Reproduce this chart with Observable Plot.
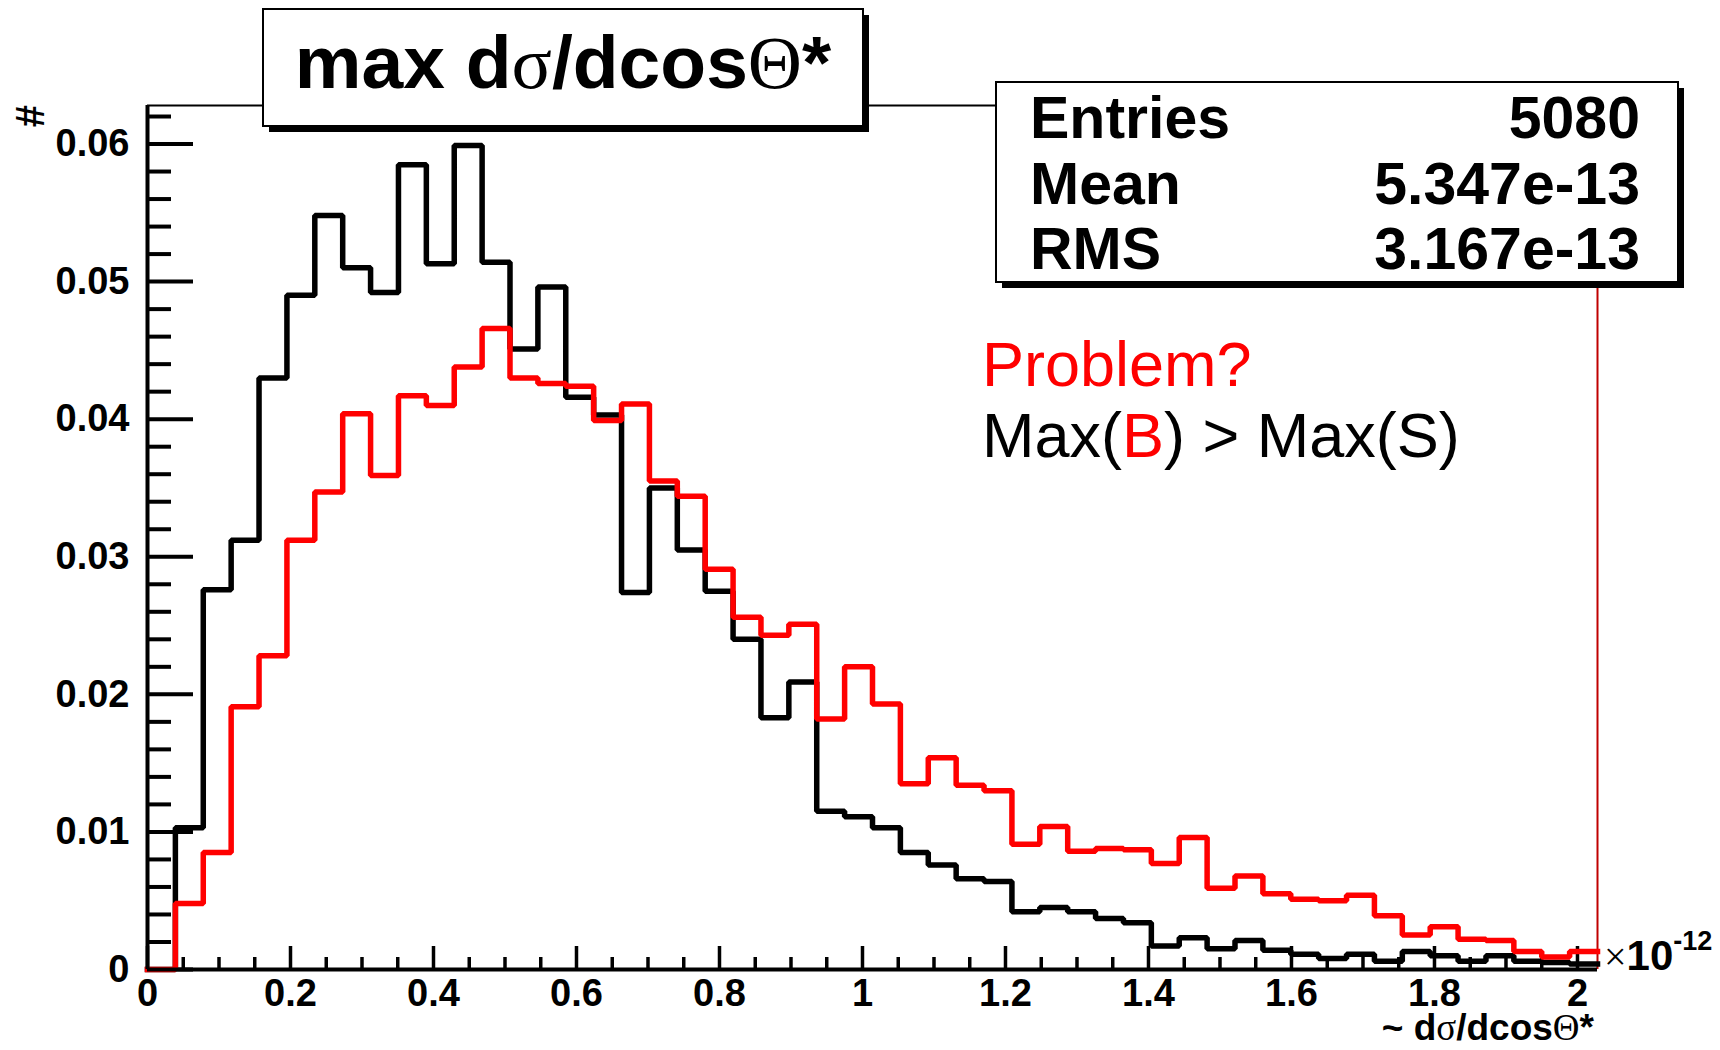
<!DOCTYPE html>
<html>
<head>
<meta charset="utf-8">
<script src="https://cdn.jsdelivr.net/npm/d3@7"></script>
<script src="https://cdn.jsdelivr.net/npm/@observablehq/plot@0.6"></script>
<style>
  html, body { margin: 0; padding: 0; background: #fff; overflow: hidden; }
  #chart svg { display: block; }
</style>
</head>
<body>
<div id="chart"></div>
<script>
// ---------------- data ----------------
// histogram binning (units of 1e-12)
const xLow = 0, xHigh = 2.028, nBins = 52;
const yMax = 0.0628;

// S : black histogram
const signal = [
  0, 0.0103, 0.0276, 0.0312, 0.0430, 0.0490, 0.0548, 0.0510, 0.0492, 0.0585,
  0.0513, 0.0599, 0.0514, 0.0451, 0.0496, 0.0416, 0.0403, 0.0274, 0.0350, 0.0305,
  0.0275, 0.0240, 0.0183, 0.0209, 0.0115, 0.0111, 0.0103, 0.0085, 0.0076, 0.0066,
  0.0064, 0.0042, 0.0045, 0.0042, 0.0037, 0.0034, 0.0017, 0.0023, 0.0015, 0.0021,
  0.0014, 0.0011, 0.0008, 0.0011, 0.0006, 0.0013, 0.0010, 0.0006, 0.0010, 0.0006,
  0.0005, 0.0004
];
// B : red histogram
const background = [
  0, 0.0048, 0.0085, 0.0191, 0.0228, 0.0312, 0.0347, 0.0404, 0.0359, 0.0417,
  0.0410, 0.0438, 0.0466, 0.0430, 0.0426, 0.0424, 0.0399, 0.0411, 0.0355, 0.0344,
  0.0291, 0.0256, 0.0243, 0.0251, 0.0182, 0.0220, 0.0193, 0.0135, 0.0154, 0.0134,
  0.0130, 0.0091, 0.0104, 0.0086, 0.0088, 0.0087, 0.0077, 0.0096, 0.0059, 0.0068,
  0.0055, 0.0051, 0.0050, 0.0054, 0.0039, 0.0025, 0.0031, 0.0022, 0.0021, 0.0013,
  0.0009, 0.0013
];

const yTicks = [0, 0.01, 0.02, 0.03, 0.04, 0.05, 0.06];
const yTickLabels = ["0", "0.01", "0.02", "0.03", "0.04", "0.05", "0.06"];
const yMinorTicks = [0.002, 0.004, 0.006, 0.008, 0.012, 0.014, 0.016, 0.018,
  0.022, 0.024, 0.026, 0.028, 0.032, 0.034, 0.036, 0.038, 0.042, 0.044, 0.046, 0.048,
  0.052, 0.054, 0.056, 0.058, 0.062];
const xTicks = [0, 0.2, 0.4, 0.6, 0.8, 1, 1.2, 1.4, 1.6, 1.8, 2];
const xTickLabels = ["0", "0.2", "0.4", "0.6", "0.8", "1", "1.2", "1.4", "1.6", "1.8", "2"];
const xMinorTicks = [0.05, 0.1, 0.15, 0.25, 0.3, 0.35, 0.45, 0.5, 0.55, 0.65, 0.7, 0.75,
  0.85, 0.9, 0.95, 1.05, 1.1, 1.15, 1.25, 1.3, 1.35, 1.45, 1.5, 1.55, 1.65, 1.7, 1.75,
  1.85, 1.9, 1.95];

const statNames = ["Entries", "Mean", "RMS"];
const statValues = ["5080", "5.347e-13", "3.167e-13"];

// ---------------- chart ----------------
const W = 1720, H = 1050;
const mL = 147, mR = 123, mT = 105, mB = 81;
const plotW = W - mL - mR, plotH = H - mT - mB;
const FONT = "'Liberation Sans', Arial, Helvetica, sans-serif";
const SERIF = "'Liberation Serif', 'Times New Roman', serif";
const RED = "#ff0000";

const binW = (xHigh - xLow) / nBins;
function steps(vals) {
  const pts = vals.map((v, i) => ({x: xLow + i * binW, y: v}));
  pts.push({x: xHigh, y: vals[vals.length - 1]});
  return pts;
}
const yLab = new Map(yTicks.map((t, i) => [t, yTickLabels[i]]));
const xLab = new Map(xTicks.map((t, i) => [t, xTickLabels[i]]));

const chart = Plot.plot({
  width: W, height: H,
  marginLeft: mL, marginRight: mR, marginTop: mT, marginBottom: mB,
  style: {background: "white", fontFamily: FONT, overflow: "visible"},
  x: {domain: [xLow, xHigh], axis: null},
  y: {domain: [0, yMax], axis: null},
  marks: [
    Plot.ruleY([yMax], {stroke: "black", strokeWidth: 2}),
    Plot.ruleX([xHigh], {stroke: "#c00000", strokeWidth: 2}),
    Plot.tickY(yMinorTicks, {y: d => d, insetRight: plotW - 24, stroke: "black", strokeWidth: 4}),
    Plot.tickY(yTicks, {y: d => d, insetRight: plotW - 46, stroke: "black", strokeWidth: 4}),
    Plot.tickX(xMinorTicks, {x: d => d, insetTop: plotH - 12, stroke: "black", strokeWidth: 3.5}),
    Plot.tickX(xTicks, {x: d => d, insetTop: plotH - 23, stroke: "black", strokeWidth: 3.5}),
    Plot.line(steps(signal), {x: "x", y: "y", curve: "step-after", stroke: "black",
      strokeWidth: 5.5, strokeLinejoin: "miter", strokeLinecap: "square"}),
    Plot.line(steps(background), {x: "x", y: "y", curve: "step-after", stroke: RED,
      strokeWidth: 5.5, strokeLinejoin: "miter", strokeLinecap: "square"}),
    Plot.ruleX([0], {stroke: "black", strokeWidth: 4}),
    Plot.ruleY([0], {stroke: "black", strokeWidth: 4}),
    Plot.axisY(yTicks, {tickSize: 0, tickPadding: 18, tickFormat: d => yLab.get(d),
      fontSize: 38, fontWeight: "bold", fontFamily: FONT, fill: "black", label: null}),
    Plot.axisX(xTicks, {tickSize: 0, tickPadding: 10, tickFormat: d => xLab.get(d),
      fontSize: 38, fontWeight: "bold", fontFamily: FONT, fill: "black", label: null})
  ]
});
document.getElementById("chart").appendChild(chart);

// ---------------- decorations ----------------
const svg = d3.select(chart);
const g = svg.append("g").attr("font-family", FONT).attr("text-anchor", "start");

// title box with shadow
g.append("rect").attr("x", 269).attr("y", 15).attr("width", 600).attr("height", 117).attr("fill", "black");
g.append("rect").attr("x", 263).attr("y", 9).attr("width", 600).attr("height", 117)
  .attr("fill", "white").attr("stroke", "black").attr("stroke-width", 2);
const title = g.append("text").attr("x", 563).attr("y", 88).attr("text-anchor", "middle")
  .attr("font-size", 75).attr("font-weight", "bold").attr("fill", "black");
title.append("tspan").text("max d");
title.append("tspan").attr("font-family", SERIF).attr("font-weight", "normal").text("σ");
title.append("tspan").text("/dcos");
title.append("tspan").attr("font-family", SERIF).attr("font-weight", "normal").text("Θ");
title.append("tspan").text("*");

// stats box with shadow
g.append("rect").attr("x", 1002).attr("y", 88).attr("width", 682).attr("height", 200).attr("fill", "black");
g.append("rect").attr("x", 996).attr("y", 82).attr("width", 682).attr("height", 200)
  .attr("fill", "white").attr("stroke", "black").attr("stroke-width", 2);
const rowY = [138, 204, 269];
statNames.forEach((n, i) => {
  g.append("text").attr("x", 1030).attr("y", rowY[i]).attr("font-size", 59)
    .attr("text-anchor", "start").attr("font-weight", "bold").attr("fill", "black").text(n);
  g.append("text").attr("x", 1640).attr("y", rowY[i]).attr("font-size", 59)
    .attr("font-weight", "bold").attr("fill", "black").attr("text-anchor", "end").text(statValues[i]);
});

// y axis title "#"
g.append("text").attr("transform", "translate(44,116) rotate(-90)").attr("text-anchor", "middle")
  .attr("font-size", 40).attr("font-weight", "bold").attr("fill", "black").text("#");

// x axis exponent
const expo = g.append("text").attr("x", 1604).attr("y", 970).attr("text-anchor", "start").attr("fill", "black");
expo.append("tspan").attr("font-size", 40).attr("font-family", SERIF).text("×");
expo.append("tspan").attr("font-size", 42).attr("font-weight", "bold").text("10");
expo.append("tspan").attr("font-size", 27).attr("font-weight", "bold").attr("dy", -20).text("-12");

// x axis title
const xt = g.append("text").attr("x", 1594).attr("y", 1040).attr("text-anchor", "end")
  .attr("font-size", 37).attr("font-weight", "bold").attr("fill", "black");
xt.append("tspan").text("~ d");
xt.append("tspan").attr("font-family", SERIF).attr("font-weight", "normal").text("σ");
xt.append("tspan").text("/dcos");
xt.append("tspan").attr("font-family", SERIF).attr("font-weight", "normal").text("Θ");
xt.append("tspan").text("*");

// annotations
g.append("text").attr("x", 982).attr("y", 386).attr("text-anchor", "start")
  .attr("font-size", 63).attr("fill", RED).text("Problem?");
const ann = g.append("text").attr("x", 982).attr("y", 457).attr("text-anchor", "start")
  .attr("font-size", 63).attr("fill", "black");
ann.append("tspan").text("Max(");
ann.append("tspan").attr("fill", RED).text("B");
ann.append("tspan").text(") > Max(S)");
</script>
</body>
</html>
